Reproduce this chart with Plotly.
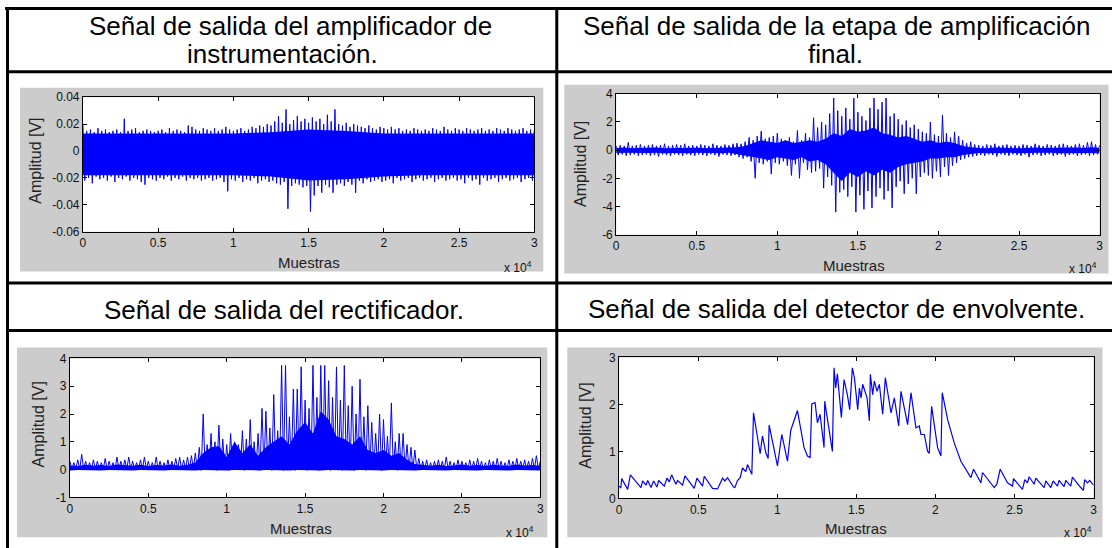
import numpy as np
import plotly.graph_objects as go

W, H = 1112, 548

# ---------------- data ----------------
titulos = [
    ["Señal de salida del amplificador de", "instrumentación."],
    ["Señal de salida de la etapa de amplificación", "final."],
    ["Señal de salida del rectificador."],
    ["Señal de salida del detector de envolvente."],
]

x_ticks = [0, 5000, 10000, 15000, 20000, 25000, 30000]
x_ticktext = ["0", "0.5", "1", "1.5", "2", "2.5", "3"]

y1_ticks = [-0.06, -0.04, -0.02, 0, 0.02, 0.04]
y1_text = ["-0.06", "-0.04", "-0.02", "0", "0.02", "0.04"]
y2_ticks = [-6, -4, -2, 0, 2, 4]
y3_ticks = [-1, 0, 1, 2, 3, 4]
y4_ticks = [0, 1, 2, 3]

# peak positions, one every 250 samples; solid band sampled every 500 / 2500
muestras = np.arange(0, 30001, 250)
nucleo_x = np.arange(0, 30001, 500)
nucleo1_x = np.arange(0, 30001, 2500)

# panel 1: instrumentation amplifier output
p1_hi = [0.020, 0.015, 0.016, 0.014, 0.017, 0.015, 0.016, 0.014, 0.015, 0.016,
         0.014, 0.024, 0.015, 0.016, 0.017, 0.014, 0.015, 0.016, 0.015, 0.014,
         0.015, 0.016, 0.014, 0.017, 0.015, 0.016, 0.015, 0.014, 0.019, 0.018,
         0.016, 0.015, 0.017, 0.016, 0.015, 0.017, 0.015, 0.016, 0.018, 0.016,
         0.015, 0.016, 0.017, 0.015, 0.016, 0.018, 0.017, 0.019, 0.018, 0.020,
         0.019, 0.022, 0.026, 0.021, 0.031, 0.020, 0.023, 0.026, 0.022, 0.024,
         0.021, 0.025, 0.022, 0.024, 0.020, 0.027, 0.022, 0.031, 0.020, 0.019,
         0.021, 0.018, 0.020, 0.019, 0.018, 0.017, 0.019, 0.017, 0.016, 0.018,
         0.017, 0.016, 0.018, 0.016, 0.017, 0.015, 0.016, 0.015, 0.017, 0.016,
         0.015, 0.016, 0.015, 0.017, 0.016, 0.015, 0.018, 0.016, 0.015, 0.017,
         0.016, 0.015, 0.017, 0.016, 0.015, 0.016, 0.017, 0.015, 0.016, 0.015,
         0.017, 0.016, 0.015, 0.017, 0.016, 0.015, 0.016, 0.017, 0.015, 0.016,
         0.015]
p1_lo = [-0.022, -0.020, -0.024, -0.019, -0.021, -0.020, -0.022, -0.019, -0.023, -0.020,
         -0.021, -0.019, -0.022, -0.020, -0.021, -0.023, -0.025, -0.020, -0.021, -0.022,
         -0.020, -0.021, -0.019, -0.022, -0.020, -0.021, -0.019, -0.022, -0.020, -0.021,
         -0.020, -0.022, -0.021, -0.020, -0.022, -0.021, -0.020, -0.023, -0.030, -0.021,
         -0.022, -0.020, -0.023, -0.021, -0.022, -0.020, -0.024, -0.022, -0.021, -0.023,
         -0.022, -0.024, -0.025, -0.023, -0.043, -0.026, -0.024, -0.025, -0.027, -0.026,
         -0.045, -0.033, -0.026, -0.031, -0.025, -0.027, -0.031, -0.025, -0.024, -0.026,
         -0.023, -0.025, -0.031, -0.022, -0.024, -0.021, -0.023, -0.022, -0.021, -0.023,
         -0.022, -0.021, -0.024, -0.020, -0.022, -0.021, -0.020, -0.023, -0.021, -0.020,
         -0.022, -0.021, -0.020, -0.023, -0.021, -0.020, -0.022, -0.021, -0.020, -0.022,
         -0.021, -0.024, -0.020, -0.022, -0.021, -0.025, -0.020, -0.022, -0.021, -0.020,
         -0.023, -0.021, -0.020, -0.022, -0.021, -0.020, -0.023, -0.021, -0.020, -0.022,
         -0.021]
p1_nucleo_hi = [0.013, 0.013, 0.013, 0.013, 0.013, 0.014, 0.016, 0.015, 0.013, 0.013, 0.013, 0.013, 0.013]
p1_nucleo_lo = [-0.018, -0.018, -0.018, -0.018, -0.018, -0.019, -0.022, -0.021, -0.019, -0.018, -0.018, -0.018, -0.018]

# panel 2: final amplification stage
p2_hi = [0.30, 0.35, 0.30, 0.55, 0.30, 0.35, 0.40, 0.30, 0.35, 0.40,
         0.30, 0.35, 0.45, 0.30, 0.35, 0.40, 0.35, 0.45, 0.30, 0.35,
         0.30, 0.40, 0.35, 0.30, 0.45, 0.35, 0.30, 0.40, 0.35, 0.45,
         0.50, 0.45, 0.60, 0.90, 0.70, 1.00, 1.35, 0.80, 0.90, 1.00,
         1.20, 0.80, 0.70, 0.90, 0.60, 1.40, 0.70, 1.20, 0.90, 2.30,
         1.60, 2.00, 1.80, 2.60, 3.70, 2.80, 2.40, 3.00, 2.20, 3.70,
         2.70, 2.40, 2.10, 3.00, 3.70, 2.90, 3.40, 3.70, 2.40, 2.60,
         2.20, 1.80, 2.10, 1.60, 1.80, 1.50, 1.30, 1.20, 2.00, 1.10,
         1.00, 2.50, 1.20, 0.90, 1.30, 1.00, 0.70, 0.50, 0.60, 0.40,
         0.35, 0.30, 0.40, 0.35, 0.45, 0.30, 0.35, 0.40, 0.30, 0.35,
         0.30, 0.40, 0.35, 0.30, 0.45, 0.35, 0.30, 0.40, 0.35, 0.30,
         0.40, 0.45, 0.35, 0.30, 0.40, 0.45, 0.35, 0.55, 0.60, 0.40,
         0.35]
p2_lo = [-0.35, -0.30, -0.40, -0.35, -0.30, -0.40, -0.35, -0.30, -0.40, -0.35,
         -0.45, -0.30, -0.35, -0.40, -0.30, -0.35, -0.40, -0.30, -0.35, -0.40,
         -0.30, -0.35, -0.40, -0.30, -0.35, -0.45, -0.30, -0.35, -0.40, -0.35,
         -0.50, -0.60, -0.50, -0.80, -2.00, -0.90, -1.00, -0.80, -1.70, -0.90,
         -1.00, -0.80, -1.10, -1.80, -1.00, -2.00, -0.90, -1.40, -1.60, -1.50,
         -1.30, -2.70, -1.90, -2.50, -4.40, -3.00, -2.80, -3.30, -2.60, -4.40,
         -3.20, -4.20, -2.90, -4.10, -3.30, -2.70, -3.50, -2.90, -4.10, -2.60,
         -2.20, -3.10, -2.40, -2.00, -3.10, -1.90, -1.60, -1.80, -2.00, -1.50,
         -1.90, -1.20, -1.80, -1.10, -0.90, -0.70, -0.60, -0.50, -0.45, -0.40,
         -0.35, -0.40, -0.30, -0.35, -0.45, -0.30, -0.35, -0.40, -0.30, -0.35,
         -0.40, -0.30, -0.50, -0.35, -0.30, -0.40, -0.35, -0.30, -0.40, -0.35,
         -0.30, -0.45, -0.35, -0.30, -0.40, -0.35, -0.30, -0.40, -0.35, -0.30,
         -0.35]
p2_nucleo_hi = [0.15, 0.18, 0.14, 0.17, 0.15, 0.19, 0.14, 0.16, 0.18, 0.15, 0.17, 0.14, 0.16, 0.18, 0.15, 0.20,
                0.30, 0.50, 0.70, 0.60, 0.50, 0.70, 0.50, 0.60, 0.70, 0.60, 0.80, 1.20, 1.00, 1.50,
                1.30, 1.40, 1.60, 1.20, 1.10, 0.90, 1.00, 0.80, 0.60, 0.70, 0.50, 0.60, 0.50, 0.30,
                0.20, 0.16, 0.14, 0.18, 0.15, 0.17, 0.14, 0.16, 0.19, 0.15, 0.17, 0.14, 0.16, 0.18,
                0.15, 0.20, 0.16]
p2_nucleo_lo = [-0.20, -0.18, -0.22, -0.19, -0.21, -0.18, -0.22, -0.20, -0.19, -0.22, -0.18, -0.21, -0.20, -0.22, -0.19, -0.25,
                -0.35, -0.50, -0.60, -0.70, -0.50, -0.60, -0.70, -0.50, -0.80, -0.70, -1.00, -1.60, -2.20, -1.60,
                -1.90, -1.50, -1.80, -1.40, -1.60, -1.20, -1.00, -0.90, -0.80, -0.60, -0.60, -0.50, -0.50, -0.35,
                -0.25, -0.20, -0.22, -0.19, -0.21, -0.18, -0.22, -0.20, -0.19, -0.21, -0.18, -0.22, -0.20, -0.19,
                -0.21, -0.20, -0.22]

# panel 3: rectifier output
p3_hi = [0.30, 0.25, 0.35, 0.55, 0.30, 0.25, 0.35, 0.30, 0.25, 0.40,
         0.30, 0.25, 0.45, 0.30, 0.35, 0.45, 0.30, 0.25, 0.35, 0.45,
         0.30, 0.25, 0.45, 0.30, 0.25, 0.35, 0.30, 0.40, 0.45, 0.35,
         0.45, 0.50, 0.60, 0.80, 2.00, 0.90, 1.30, 1.00, 1.60, 1.10,
         0.90, 1.30, 1.00, 0.90, 1.40, 1.10, 1.80, 1.00, 1.30, 2.20,
         2.10, 1.50, 2.70, 1.40, 3.75, 3.75, 1.90, 2.90, 2.90, 3.70,
         2.50, 2.20, 3.75, 2.60, 3.75, 3.75, 3.20, 2.60, 3.70, 2.50,
         3.75, 2.30, 3.00, 2.00, 3.25, 1.90, 2.30, 1.70, 1.30, 2.00,
         1.80, 1.20, 2.40, 1.00, 1.30, 1.30, 0.90, 0.80, 0.70, 0.40,
         0.30, 0.35, 0.25, 0.30, 0.35, 0.30, 0.45, 0.30, 0.25, 0.35,
         0.30, 0.25, 0.35, 0.30, 0.40, 0.30, 0.25, 0.35, 0.30, 0.40,
         0.30, 0.25, 0.35, 0.30, 0.40, 0.30, 0.35, 0.30, 0.40, 0.50,
         0.30]
p3_lo = [0.00, 0.02, 0.00, 0.01, 0.00, 0.02, 0.01, 0.00, 0.02, 0.00,
         0.01, 0.00, 0.02, 0.00, 0.01, 0.02, 0.00, 0.01, 0.00, 0.02,
         0.00, 0.01, 0.02, 0.00, 0.01, 0.00, 0.02, 0.01, 0.00, 0.02,
         0.00, 0.01, 0.00, -0.03, 0.00, 0.02, 0.00, -0.03, 0.01, 0.00,
         -0.03, 0.00, 0.01, 0.00, -0.03, 0.00, 0.02, 0.00, -0.03, 0.00,
         0.01, -0.03, 0.00, 0.00, -0.03, 0.01, 0.00, -0.03, 0.00, 0.00,
         -0.03, 0.00, 0.01, -0.03, 0.00, 0.00, -0.03, 0.00, 0.01, -0.03,
         0.00, 0.00, -0.03, 0.01, 0.00, -0.03, 0.00, 0.00, 0.01, -0.03,
         0.00, 0.01, 0.00, -0.03, 0.00, 0.02, 0.00, 0.01, 0.00, 0.02,
         0.00, 0.01, 0.00, 0.02, 0.01, 0.00, 0.02, 0.00, 0.01, 0.00,
         0.02, 0.00, 0.01, 0.00, 0.02, 0.01, 0.00, 0.02, 0.00, 0.01,
         0.00, 0.02, 0.01, 0.00, 0.02, 0.00, 0.01, 0.00, 0.02, 0.00,
         0.01]
p3_nucleo_hi = [0.15, 0.13, 0.17, 0.14, 0.16, 0.13, 0.18, 0.15, 0.14, 0.17, 0.13, 0.16, 0.15, 0.18, 0.14, 0.17,
                0.25, 0.60, 0.80, 0.85, 0.45, 1.00, 0.60, 0.90, 0.50, 0.80, 1.00, 1.20, 0.90, 1.40,
                1.70, 1.30, 2.10, 1.80, 1.20, 1.10, 0.90, 1.20, 0.70, 0.60, 0.70, 0.50, 0.60, 0.35,
                0.20, 0.16, 0.14, 0.17, 0.13, 0.15, 0.18, 0.14, 0.16, 0.13, 0.17, 0.15, 0.14, 0.18,
                0.15, 0.16, 0.14]
p3_nucleo_lo = [-0.03, -0.02, -0.03, -0.02, -0.03, -0.02, -0.03, -0.02, -0.03, -0.02, -0.03, -0.02, -0.03, -0.02, -0.03, -0.02,
                -0.03, -0.02, -0.03, -0.02, -0.03, -0.02, -0.03, -0.02, -0.03, -0.02, -0.03, -0.02, -0.03, -0.02,
                -0.03, -0.02, -0.03, -0.02, -0.03, -0.02, -0.03, -0.02, -0.03, -0.02, -0.03, -0.02, -0.03, -0.02,
                -0.03, -0.02, -0.03, -0.02, -0.03, -0.02, -0.03, -0.02, -0.03, -0.02, -0.03, -0.02, -0.03, -0.02,
                -0.03, -0.02, -0.03]

# panel 4: envelope detector output
p4_x = [0, 100, 158, 537, 705, 1379, 1484, 1694, 1800, 2010, 2179, 2389, 2494, 2852, 3020, 3168,
        3315, 3589, 3694, 4010, 4157, 4747, 4915, 5273, 5378, 5904, 6220, 6536, 6683, 6852, 7230,
        7315, 7483, 7651, 7799, 8009, 8115, 8388, 8494, 8704, 8915, 9062, 9273, 9420, 9483, 10009,
        10283, 10641, 10851, 11272, 11693, 11904, 12073, 12178, 12388, 12535, 12704, 12956, 12998,
        13482, 13588, 13693, 13798, 14051, 14219, 14430, 14577, 14745, 14874, 15085, 15190, 15295,
        15400, 15674, 15821, 15884, 16032, 16137, 16305, 16453, 16663, 16832, 17190, 17400, 17674,
        17821, 17989, 18242, 18453, 18768, 18979, 19084, 19295, 19505, 19610, 19758, 20137, 20347,
        20431, 20768, 21189, 21610, 22242, 22410, 22873, 22978, 23715, 23883, 24094, 24557, 24873,
        24936, 25504, 25652, 25820, 25925, 26241, 26346, 26873, 26978, 27294, 27441, 27715, 27820,
        28136, 28241, 28557, 28662, 29188, 29356, 29441, 29609, 29756, 30000]
p4_y = [0.26, 0.22, 0.42, 0.19, 0.50, 0.23, 0.37, 0.28, 0.38, 0.23, 0.37, 0.24, 0.38, 0.26, 0.43, 0.35,
        0.50, 0.30, 0.38, 0.28, 0.48, 0.21, 0.43, 0.26, 0.47, 0.21, 0.20, 0.43, 0.37, 0.44, 0.24,
        0.23, 0.38, 0.44, 0.65, 0.57, 0.72, 0.51, 1.82, 1.36, 0.95, 1.33, 0.97, 0.85, 1.56, 0.69,
        1.36, 0.79, 1.45, 1.87, 1.08, 0.90, 0.87, 2.01, 2.04, 1.61, 1.79, 1.08, 2.07,
        1.00, 2.78, 2.35, 2.65, 1.72, 2.53, 2.21, 1.89, 2.78, 2.57, 1.89, 2.35, 2.14,
        2.43, 2.14, 1.65, 2.64, 2.21, 2.50, 2.28, 2.43, 1.79, 2.57, 1.82, 2.14, 1.54,
        2.28, 1.96, 1.57, 2.25, 1.50, 1.54, 1.36, 1.36, 1.00, 0.96, 1.96, 1.08, 0.90,
        2.25, 1.68, 1.18, 0.79, 0.44, 0.62, 0.33, 0.55, 0.23, 0.30, 0.62, 0.33, 0.26,
        0.42, 0.19, 0.40, 0.33, 0.46, 0.30, 0.43, 0.23, 0.37, 0.23, 0.37, 0.26, 0.38,
        0.25, 0.38, 0.26, 0.45, 0.23, 0.17, 0.40, 0.33, 0.38, 0.28]

# ---------------- layout geometry (pixels) ----------------
AZUL = "#0000ff"
GRIS = "#cccccc"
FUENTE = "Arial, Liberation Sans, sans-serif"

# axes boxes: left, top, right, bottom
cajas = [(83, 96.5, 535, 231), (617, 93, 1101, 234), (70, 358, 541, 497), (620, 357, 1095, 498)]
fondos = [(20, 87, 544, 271), (565, 84, 1110, 273), (17, 347, 548, 537), (568, 347, 1104, 537)]
rangos_y = [(-0.06, 0.04), (-6, 4), (-1, 4), (0, 3)]
ticks_y = [(y1_ticks, y1_text), (y2_ticks, [str(v) for v in y2_ticks]),
           (y3_ticks, [str(v) for v in y3_ticks]), (y4_ticks, [str(v) for v in y4_ticks])]


# pixel -> paper, with a small correction measured against the captured page
def px(x):
    return (1.005 * x - 3) / W


def py(y):
    return 1 - (1.025 * y - 6.25) / H


def zigzag(xs, hi, lo, half=125):
    X, Y = [], []
    for x, h, l in zip(xs, hi, lo):
        X += [x, x + half]
        Y += [h, l]
    return X, Y


def banda(xs, hi, lo, ax):
    xs = list(xs)
    return go.Scatter(x=xs + xs[::-1], y=list(hi) + list(lo)[::-1], fill="toself",
                      fillcolor=AZUL, line=dict(width=0), mode="lines",
                      xaxis="x" + ax, yaxis="y" + ax, hoverinfo="skip")


fig = go.Figure()

paneles = [
    (nucleo1_x, p1_nucleo_hi, p1_nucleo_lo, p1_hi, p1_lo),
    (nucleo_x, p2_nucleo_hi, p2_nucleo_lo, p2_hi, p2_lo),
    (nucleo_x, p3_nucleo_hi, p3_nucleo_lo, p3_hi, p3_lo),
]
for i, (cx, chi, clo, hi, lo) in enumerate(paneles):
    ax = "" if i == 0 else str(i + 1)
    fig.add_trace(banda(cx, chi, clo, ax))
    zx, zy = zigzag(muestras, hi, lo)
    fig.add_trace(go.Scatter(x=zx, y=zy, mode="lines", line=dict(color=AZUL, width=1),
                             xaxis="x" + ax, yaxis="y" + ax))

fig.add_trace(go.Scatter(x=p4_x, y=p4_y, mode="lines", line=dict(color=AZUL, width=1.2),
                         xaxis="x4", yaxis="y4"))

shapes = []
# gray figure backgrounds and white axes backgrounds
for (l, t, r, b) in fondos:
    shapes.append(dict(type="rect", xref="paper", yref="paper", x0=px(l), x1=px(r),
                       y0=py(b), y1=py(t), fillcolor=GRIS, line=dict(width=0), layer="below"))
for (l, t, r, b) in cajas:
    shapes.append(dict(type="rect", xref="paper", yref="paper", x0=px(l), x1=px(r),
                       y0=py(b), y1=py(t), fillcolor="white", line=dict(width=0), layer="below"))

# table lines
lineas = [
    (5, 7.5, 1115, 7.5), (7.5, 6, 7.5, 560), (557.5, 6, 557.5, 560),
    (6, 71, 1115, 71), (6, 282.5, 1115, 282.5), (6, 330, 1115, 330),
]
for (x0, y0, x1, y1) in lineas:
    shapes.append(dict(type="line", xref="paper", yref="paper", x0=px(x0), x1=px(x1),
                       y0=py(y0), y1=py(y1), line=dict(color="black", width=3)))

layout = dict(width=W, height=H, margin=dict(l=0, r=0, t=0, b=0),
              paper_bgcolor="white", plot_bgcolor="rgba(0,0,0,0)",
              showlegend=False, shapes=shapes)

for i, (l, t, r, b) in enumerate(cajas):
    ax = "" if i == 0 else str(i + 1)
    comun = dict(showline=True, linecolor="black", linewidth=1, mirror="allticks",
                 ticks="inside", ticklen=4, tickcolor="black", tickwidth=1,
                 showgrid=False, zeroline=False,
                 tickfont=dict(family=FUENTE, size=12, color="#111111"))
    layout["xaxis" + ax] = dict(comun, domain=[px(l), px(r)], anchor="y" + ax,
                                range=[0, 30000], tickmode="array",
                                tickvals=x_ticks, ticktext=x_ticktext)
    tv, tt = ticks_y[i]
    layout["yaxis" + ax] = dict(comun, domain=[py(b), py(t)], anchor="x" + ax,
                                range=list(rangos_y[i]), tickmode="array",
                                tickvals=tv, ticktext=tt)

anots = []
# headers
cabeceras = [
    (titulos[0][0], 291, 25), (titulos[0][1], 283, 53),
    (titulos[1][0], 838, 25), (titulos[1][1], 837, 53),
    (titulos[2][0], 284, 309), (titulos[3][0], 838, 308),
]
for texto, x, y in cabeceras:
    anots.append(dict(text=texto, x=px(x), y=py(y), xref="paper", yref="paper",
                      xanchor="center", yanchor="middle", showarrow=False,
                      font=dict(family=FUENTE, size=26, color="black")))

# axis labels and exponent labels
etiquetas = [
    # (muestras x, y), (amplitud x, y), (exp x, y)
    ((309, 262), (36, 160), (519, 266)),
    ((855, 265), (581, 163), (1084, 267)),
    ((301, 528), (38, 424), (521, 532)),
    ((857, 528), (586, 425), (1079, 532)),
]
for (mx, my), (ax_, ay), (ex, ey) in etiquetas:
    anots.append(dict(text="Muestras", x=px(mx), y=py(my), xref="paper", yref="paper",
                      xanchor="center", yanchor="middle", showarrow=False,
                      font=dict(family=FUENTE, size=15, color="#222222")))
    anots.append(dict(text="Amplitud [V]", x=px(ax_), y=py(ay), xref="paper", yref="paper",
                      xanchor="center", yanchor="middle", showarrow=False, textangle=-90,
                      font=dict(family=FUENTE, size=16, color="#222222")))
    anots.append(dict(text="x 10<sup>4</sup>", x=px(ex), y=py(ey), xref="paper", yref="paper",
                      xanchor="center", yanchor="middle", showarrow=False,
                      font=dict(family=FUENTE, size=12, color="#111111")))

layout["annotations"] = anots
fig.update_layout(layout)

# page margin off so the figure sits at the window origin
pagina = ("document.documentElement.style.margin='0';"
          "document.documentElement.style.overflow='hidden';"
          "document.body.style.margin='0';document.body.style.padding='0';"
          "document.body.style.overflow='hidden';")
fig.write_html("out.html", config={"displayModeBar": False}, post_script=pagina)
